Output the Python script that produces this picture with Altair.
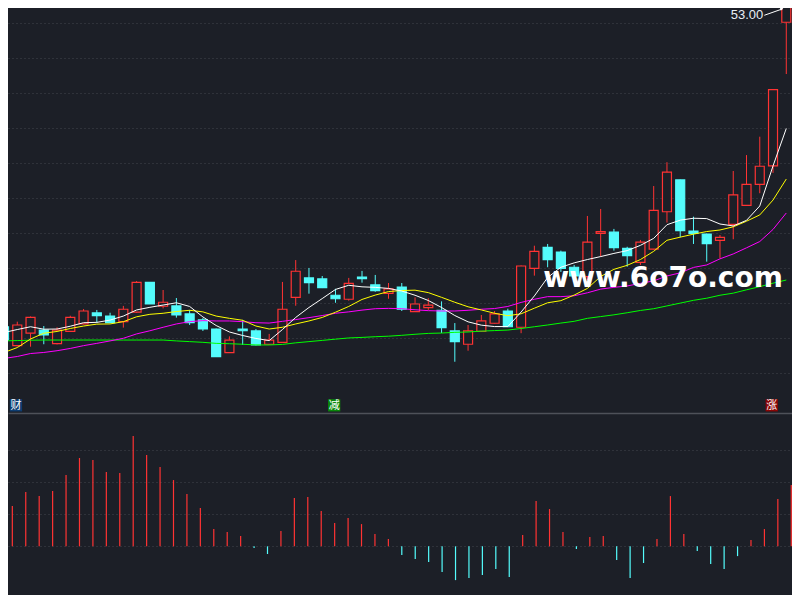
import altair as alt
import pandas as pd

BG = "#1c1f27"
RED = "#ff3333"
CYAN = "#54fcfc"
GRID = "#43464e"

# ---- data ----
idx = list(range(60))
open_ = [34.66, 33.58, 34.29, 34.47, 33.69, 34.40, 34.82, 35.45, 35.27, 34.95,
         35.49, 37.20, 35.83, 35.85, 35.39, 35.05, 34.53, 33.18, 34.53, 34.42,
         33.66, 33.77, 36.34, 37.45, 37.39, 36.46, 36.23, 37.50, 37.05, 36.57,
         36.93, 35.52, 35.75, 35.60, 34.42, 33.66, 34.40, 34.86, 35.56, 34.63,
         38.00, 39.20, 38.93, 38.06, 37.52, 40.00, 40.07, 39.14, 38.34, 39.09,
         41.23, 43.05, 40.13, 39.96, 39.60, 40.51, 41.60, 42.80, 43.85, 52.06]
close = [33.90, 34.76, 35.20, 34.19, 34.47, 35.20, 35.56, 35.29, 34.89, 35.66,
         37.20, 35.96, 36.06, 35.33, 34.89, 34.53, 32.95, 33.90, 34.43, 33.62,
         33.90, 35.66, 37.83, 37.18, 36.89, 36.26, 37.14, 37.41, 36.72, 36.82,
         35.66, 35.96, 35.89, 34.61, 33.81, 34.42, 34.99, 35.39, 34.66, 38.13,
         38.97, 38.49, 38.00, 37.56, 39.49, 40.09, 39.18, 38.72, 39.49, 41.31,
         43.49, 40.15, 40.00, 39.41, 39.77, 42.19, 42.80, 43.83, 48.21, 53.00]
high = [34.76, 34.95, 35.25, 34.70, 34.63, 35.29, 35.67, 35.62, 35.46, 35.85,
        37.27, 37.20, 36.76, 36.30, 35.62, 35.16, 34.56, 34.11, 35.05, 34.53,
        34.25, 37.22, 38.47, 38.02, 37.56, 36.83, 37.45, 37.85, 37.62, 37.16,
        37.16, 36.34, 36.29, 36.11, 34.87, 34.76, 35.33, 35.56, 35.69, 38.16,
        39.29, 39.39, 39.01, 38.19, 40.99, 41.39, 40.25, 39.23, 39.62, 42.70,
        44.06, 43.07, 40.95, 39.99, 39.90, 43.56, 44.47, 45.52, 48.24, 53.00]
low = [33.79, 33.53, 33.52, 33.66, 33.65, 34.36, 34.79, 34.89, 34.87, 34.61,
       35.45, 35.96, 35.71, 35.18, 34.76, 34.42, 32.93, 33.16, 33.62, 33.59,
       33.62, 33.76, 35.86, 36.55, 36.87, 36.03, 36.15, 37.18, 36.66, 36.26,
       35.56, 35.50, 35.62, 34.30, 32.66, 33.29, 34.39, 34.84, 34.64, 34.29,
       37.58, 38.06, 37.79, 37.39, 37.33, 38.66, 39.01, 38.09, 38.19, 39.07,
       40.61, 39.77, 39.39, 38.38, 38.57, 39.66, 41.59, 42.29, 43.45, 49.10]

ma5 = [34.33, 34.50, 34.66, 34.52, 34.53, 34.69, 34.89, 34.91, 35.04, 35.27,
       35.62, 35.77, 35.90, 36.03, 35.82, 35.22, 34.73, 34.36, 34.16, 33.99,
       33.87, 34.50, 35.19, 35.76, 36.27, 36.79, 37.03, 36.94, 36.91, 36.85,
       36.70, 36.46, 36.16, 35.76, 35.30, 34.94, 34.75, 34.67, 34.67, 35.50,
       36.42, 37.47, 38.06, 38.31, 38.50, 38.67, 38.85, 39.01, 39.31, 39.71,
       40.49, 40.75, 40.86, 40.84, 40.53, 40.42, 40.74, 41.56, 43.85, 45.99]
ma10 = [33.19, 33.47, 33.96, 34.29, 34.39, 34.56, 34.70, 34.81, 34.82, 34.95,
        35.23, 35.37, 35.43, 35.53, 35.60, 35.51, 35.27, 35.14, 35.03, 34.70,
        34.53, 34.63, 34.82, 34.99, 35.19, 35.49, 35.82, 36.22, 36.47, 36.67,
        36.73, 36.75, 36.61, 36.34, 36.06, 35.80, 35.62, 35.43, 35.29, 35.40,
        35.72, 36.03, 36.15, 36.47, 36.85, 37.53, 37.94, 38.17, 38.50, 38.97,
        39.60, 39.78, 39.95, 40.10, 40.19, 40.37, 40.69, 41.05, 41.90, 43.10]
ma20 = [32.85, 32.96, 33.13, 33.19, 33.29, 33.42, 33.58, 33.71, 33.85, 34.00,
        34.25, 34.43, 34.63, 34.82, 34.95, 35.01, 34.99, 34.99, 34.95, 34.89,
        34.87, 34.97, 35.07, 35.18, 35.30, 35.43, 35.51, 35.61, 35.69, 35.71,
        35.69, 35.63, 35.58, 35.56, 35.56, 35.60, 35.66, 35.70, 35.82, 36.05,
        36.23, 36.38, 36.38, 36.43, 36.60, 36.81, 36.91, 36.99, 37.14, 37.28,
        37.56, 37.74, 38.05, 38.19, 38.54, 38.82, 39.17, 39.53, 40.22, 41.16]
ma60 = [33.85, 33.87, 33.89, 33.90, 33.90, 33.90, 33.90, 33.90, 33.90, 33.90,
        33.90, 33.90, 33.90, 33.85, 33.81, 33.77, 33.71, 33.69, 33.66, 33.62,
        33.62, 33.65, 33.74, 33.81, 33.88, 33.95, 34.02, 34.05, 34.09, 34.12,
        34.17, 34.23, 34.28, 34.30, 34.34, 34.36, 34.41, 34.44, 34.47, 34.56,
        34.66, 34.76, 34.87, 34.97, 35.14, 35.24, 35.34, 35.46, 35.59, 35.69,
        35.85, 36.01, 36.17, 36.29, 36.46, 36.58, 36.77, 36.95, 37.15, 37.33]

macd = [0.210, 0.252, 0.339, 0.314, 0.346, 0.446, 0.552, 0.539, 0.464, 0.458,
        0.689, 0.571, 0.496, 0.414, 0.327, 0.239, 0.108, 0.089, 0.064, -0.011,
        -0.048, 0.096, 0.302, 0.308, 0.221, 0.146, 0.177, 0.139, 0.077, 0.046,
        -0.054, -0.079, -0.098, -0.161, -0.211, -0.198, -0.179, -0.142, -0.192, 0.071,
        0.283, 0.233, 0.089, -0.017, 0.058, 0.064, -0.086, -0.198, -0.104, 0.046,
        0.314, 0.077, -0.029, -0.111, -0.142, -0.061, 0.039, 0.108, 0.296, 0.383]

price_grid = [32, 34, 36, 38, 40, 42, 44, 46, 48, 50, 52]
macd_grid = [0, 0.2, 0.4, 0.6]

tag_k = [1, 25, 58]
tag_text = ["财", "减", "涨"]
tag_color = ["#0d3d72", "#0a870a", "#8a0505"]

watermark = "www.6o7o.com"

# ---- tables ----
base = pd.DataFrame({"k": idx, "open": open_, "high": high, "low": low,
                     "close": close, "ma5": ma5, "ma10": ma10, "ma20": ma20,
                     "ma60": ma60, "macd": macd})
base["dir"] = ["up" if c >= o else "down" for o, c in zip(open_, close)]
base["sign"] = ["pos" if m >= 0 else "neg" for m in macd]
base["zero"] = 0.0
last = base.iloc[[len(base) - 1]]
tags = pd.DataFrame({"k": tag_k, "txt": tag_text, "bgc": tag_color})

# ---- scales / axes ----
W = 784
xs = alt.Scale(domain=[0.6776, 59.054], nice=False, zero=False)
ys = alt.Scale(domain=[29.731, 52.874], nice=False, zero=False)
ms = alt.Scale(domain=[-0.304, 0.833], nice=False, zero=False)

x_top_axis = alt.Axis(title=None, labels=False, ticks=False, grid=False,
                      domain=True, domainColor="#4e5159", domainWidth=1.5)
y_top_axis = alt.Axis(title=None, labels=False, ticks=False, domain=False,
                      grid=True, values=price_grid, gridColor=GRID,
                      gridDash=[1, 3], gridWidth=1)
y_bot_axis = alt.Axis(title=None, labels=False, ticks=False, domain=False,
                      grid=True, values=macd_grid, gridColor=GRID,
                      gridDash=[1, 3], gridWidth=1)

X = alt.X("k:Q", scale=xs, axis=x_top_axis)


def Y(field):
    return alt.Y(field, type="quantitative", scale=ys, axis=y_top_axis)


dir_stroke = alt.Stroke("dir:N", scale=alt.Scale(domain=["up", "down"], range=[RED, CYAN]), legend=None)

wicks = alt.Chart(base).mark_rule(strokeWidth=1, clip=True).encode(
    x=X, y=Y("low"), y2="high:Q", stroke=dir_stroke)

bodies = alt.Chart(base).mark_bar(size=9, strokeWidth=1.2, clip=True).encode(
    x=X, y=Y("open"), y2="close:Q", stroke=dir_stroke,
    fill=alt.Fill("dir:N", scale=alt.Scale(domain=["up", "down"], range=[BG, CYAN]), legend=None))

ma_layers = []
for fld, col in [("ma60", "#00ff00"), ("ma20", "#ff00ff"), ("ma10", "#ffff00"), ("ma5", "#ffffff")]:
    ma_layers.append(alt.Chart(base).mark_line(strokeWidth=1, color=col, clip=True).encode(
        x=X, y=Y(fld)))

price_lbl = alt.Chart(last).mark_text(font="Liberation Sans", fontSize=13, color="#e8eef6",
                                      align="right", baseline="middle", dx=-23, dy=9.5).encode(
    x=X, y=Y("high"), text=alt.Text("high:Q", format=".2f"))

arrow = alt.Chart(last).mark_rule(color="#ffffff", strokeWidth=1, xOffset=-22, yOffset=9.5,
                                  x2Offset=-3.5, y2Offset=3, clip=True).encode(
    x=X, x2="k:Q", y=Y("high"), y2="high:Q")

arrow_head = alt.Chart(last).mark_point(shape="triangle-right", filled=True, size=14, angle=342,
                                        color="#ffffff", opacity=1, xOffset=-4.5, yOffset=2.6,
                                        clip=True).encode(
    x=X, y=Y("high"))

tag_bg = alt.Chart(tags).mark_square(size=150, filled=True, opacity=1, xOffset=-1.3,
                                     clip=True).encode(
    x=X, y=alt.value(397.3), fill=alt.Fill("bgc:N", scale=None))
tag_txt = alt.Chart(tags).mark_text(font="Noto Sans CJK SC", fontSize=11, color="#ffffff",
                                    baseline="middle", xOffset=-1.3, clip=True).encode(
    x=X, y=alt.value(397.6), text="txt:N")

wm = alt.Chart(pd.DataFrame({"t": [watermark]})).mark_text(
    font="DejaVu Sans", fontWeight="bold", fontSize=28, color="#ffffff",
    align="left", baseline="alphabetic", clip=True).encode(
    x=alt.value(535.3), y=alt.value(278.7), text="t:N")

top = alt.layer(wicks, bodies, *ma_layers, arrow, arrow_head, price_lbl, tag_bg, tag_txt, wm).properties(
    width=W, height=405)

bottom = alt.Chart(base).mark_rule(strokeWidth=1.2, clip=True).encode(
    x=alt.X("k:Q", scale=xs, axis=None),
    y=alt.Y("macd:Q", scale=ms, axis=y_bot_axis),
    y2="zero:Q",
    stroke=alt.Stroke("sign:N", scale=alt.Scale(domain=["pos", "neg"], range=[RED, CYAN]), legend=None),
).properties(width=W, height=182)

chart = alt.vconcat(top, bottom, spacing=0).properties(
    background=BG, padding=0
).configure_view(stroke=None).resolve_scale(stroke="independent", fill="independent")

chart.save("out.html", embed_options={"renderer": "svg", "actions": False})
